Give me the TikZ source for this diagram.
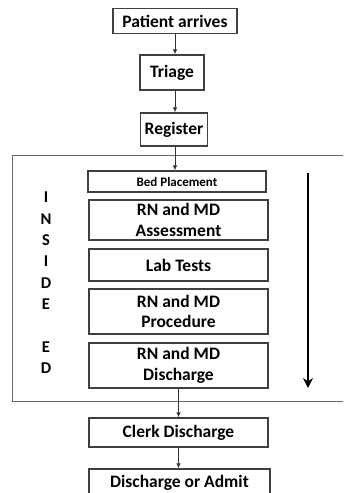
\documentclass[tikz,border=0pt]{standalone}
\usepackage{fontspec}
\setmainfont{Carlito}
\usetikzlibrary{arrows.meta}
\tikzset{
  box/.style={draw=black!75, line width=1.3pt, rectangle, inner sep=0pt, align=center,
              font=\fontsize{17.5}{20.5}\selectfont\bfseries},
  arr/.style={draw=black!80, line width=0.9pt, -{Latex[length=5pt,width=4.5pt]}},
  letter/.style={font=\fontsize{16.5}{18}\selectfont\bfseries, inner sep=0pt},
  outer/.style={draw=black!60, line width=1pt}
}
\begin{document}
\begin{tikzpicture}[x=1pt,y=-1pt]
\useasboundingbox (0,0) rectangle (343,493);
\clip (0,0) rectangle (343,493);
\fill[white] (0,0) rectangle (343,493);
% outer region
\coordinate (otr) at (350,155);
\coordinate (otl) at (12,155);
\coordinate (obl) at (12,401);
\coordinate (obr) at (350,401);
\draw[outer] (otr) -- (otl) -- (obl) -- (obr);
% nodes
\node[box, minimum width=124pt, minimum height=25pt] (pa) at (175,21) {Patient arrives};
\node[box, minimum width=64pt, minimum height=35pt] (tr) at (172,72.5) {Triage};
\node[box, minimum width=67pt, minimum height=33pt] (rg) at (174,129.5) {Register};
\node[box, minimum width=178pt, minimum height=21pt, font=\fontsize{13}{14}\selectfont\bfseries] (bp) at (177,181.5) {Bed Placement};
\node[box, minimum width=179pt, minimum height=40pt] (as) at (178.5,220) {RN and MD\\Assessment};
\node[box, minimum width=179pt, minimum height=32pt] (lt) at (178.5,265) {Lab Tests};
\node[box, minimum width=179pt, minimum height=45pt] (pr) at (178.5,311.5) {RN and MD\\Procedure};
\node[box, minimum width=179pt, minimum height=45pt] (dc) at (178.5,365.5) {RN and MD\\Discharge};
\node[box, minimum width=179pt, minimum height=29pt] (cd) at (178.5,432.5) {Clerk Discharge};
\node[box, minimum width=181pt, minimum height=28pt] (da) at (179.5,483) {Discharge or Admit};
% letters
\node[letter] (l1) at (46,197) {I};
\node[letter] (l2) at (46,219) {N};
\node[letter] (l3) at (46,240) {S};
\node[letter] (l4) at (46,261) {I};
\node[letter] (l5) at (46,283) {D};
\node[letter] (l6) at (46,304) {E};
\node[letter] (l7) at (46,347) {E};
\node[letter] (l8) at (46,368) {D};
% connectors
\draw[arr] (pa.south) -- (pa.south |- tr.north);
\draw[arr] (pa.south |- tr.south) -- (pa.south |- rg.north);
\draw[arr] (pa.south |- rg.south) -- (pa.south |- bp.north);
\draw[arr] (dc.south) -- (cd.north);
\draw[arr] (cd.south) -- (cd.south |- da.north);
% flow arrow
\coordinate (fa) at (308,173);
\coordinate (fb) at (308,388);
\draw[line width=2pt, -{Stealth[length=10pt,width=10pt]}] (fa) -- (fb);
\end{tikzpicture}
\end{document}
